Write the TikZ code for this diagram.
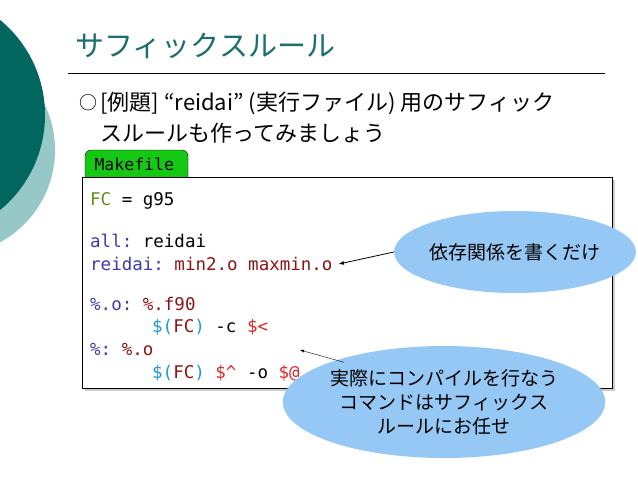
\documentclass[tikz,border=0pt]{standalone}
\usepackage{fontspec}
\setmainfont{Noto Sans CJK JP}
\setmonofont{DejaVu Sans Mono}
\usetikzlibrary{positioning, shapes.geometric, shadows}
\definecolor{darkteal}{RGB}{0,102,94}
\definecolor{lightteal}{RGB}{150,200,200}
\definecolor{titleteal}{RGB}{30,110,110}
\definecolor{tabgreen}{RGB}{20,200,20}
\definecolor{bubble}{RGB}{150,200,245}
\definecolor{kwgreen}{RGB}{100,140,30}
\definecolor{kwblue}{RGB}{60,60,170}
\definecolor{kwred}{RGB}{140,20,20}
\definecolor{kwcyan}{RGB}{30,150,220}
\definecolor{kwbright}{RGB}{220,40,40}
\tikzstyle{codeline}=[anchor=west, inner sep=0pt, font=\ttfamily\fontsize{17.5}{20}\selectfont]
\tikzstyle{bubblenode}=[ellipse, fill=bubble, align=center, inner sep=0pt, font=\fontsize{19}{24}\selectfont]
\begin{document}
\begin{tikzpicture}[x=1pt, y=-1pt]
\useasboundingbox (0,0) rectangle (638,479);
\fill[white] (0,0) rectangle (638,479);
% side circles
\fill[lightteal] (-50,150) circle (105);
\fill[darkteal] (-78,115) circle (123);
% title
\node[anchor=west, text=titleteal, font=\fontsize{29}{32}\selectfont] (title) at (72,46) {サフィックスルール};
\draw (68,73) coordinate (l1) -- (605,73) coordinate (l2);
\node[anchor=west, font=\fontsize{18}{20}\selectfont] (bullet) at (76,103) {○};
\node[anchor=west, font=\fontsize{22}{26}\selectfont] (b1) at (97,103) {[例題] “reidai” (実行ファイル) 用のサフィック};
\node[anchor=west, font=\fontsize{22}{26}\selectfont] (b2) at (97,133) {スルールも作ってみましょう};
% code box
\draw[fill=white, drop shadow={shadow xshift=3pt, shadow yshift=-3pt, opacity=0.4}] (82,177) rectangle (612,388);
\draw[fill=tabgreen, rounded corners=6pt] (85,177) -- (85,150) -- (188,150) -- (188,177);
\draw (85,177) -- (188,177);
\node[anchor=west, font=\ttfamily\fontsize{16.5}{18}\selectfont] (tab) at (91,164) {Makefile};
\node[codeline] (c1) at (90,201) {\textcolor{kwgreen}{FC} = g95};
\node[codeline] (c2) at (90,241) {\textcolor{kwblue}{all:} reidai};
\node[codeline] (c3) at (90,264) {\textcolor{kwblue}{reidai:} \textcolor{kwred}{min2.o maxmin.o}};
\node[codeline] (c4) at (90,304) {\textcolor{kwblue}{\%.o:} \textcolor{kwred}{\%.f90}};
\node[codeline] (c5) at (152,327) {\textcolor{kwcyan}{\$(}\textcolor{kwred}{FC}\textcolor{kwcyan}{)} -c \textcolor{kwbright}{\$<}};
\node[codeline] (c6) at (90,350) {\textcolor{kwblue}{\%:} \textcolor{kwred}{\%.o}};
\node[codeline] (c7) at (152,373) {\textcolor{kwcyan}{\$(}\textcolor{kwred}{FC}\textcolor{kwcyan}{)} \textcolor{kwbright}{\$\^{}} -o \textcolor{kwbright}{\$@}};
% bubbles
\node[bubblenode, minimum width=190pt, minimum height=82pt] (dep) at (515,252) {依存関係を書くだけ};
\node[bubblenode, minimum width=280pt, minimum height=112pt] (cmd) at (444,402) {実際にコンパイルを行なう\\コマンドはサフィックス\\ルールにお任せ};
\coordinate (cmdend) at (300,350);
\draw[thick, -latex] (dep.west) -- ([xshift=6pt]c3.east);
\draw[-latex] ([xshift=14pt]cmd.north west) -- (cmdend);
\end{tikzpicture}
\end{document}
